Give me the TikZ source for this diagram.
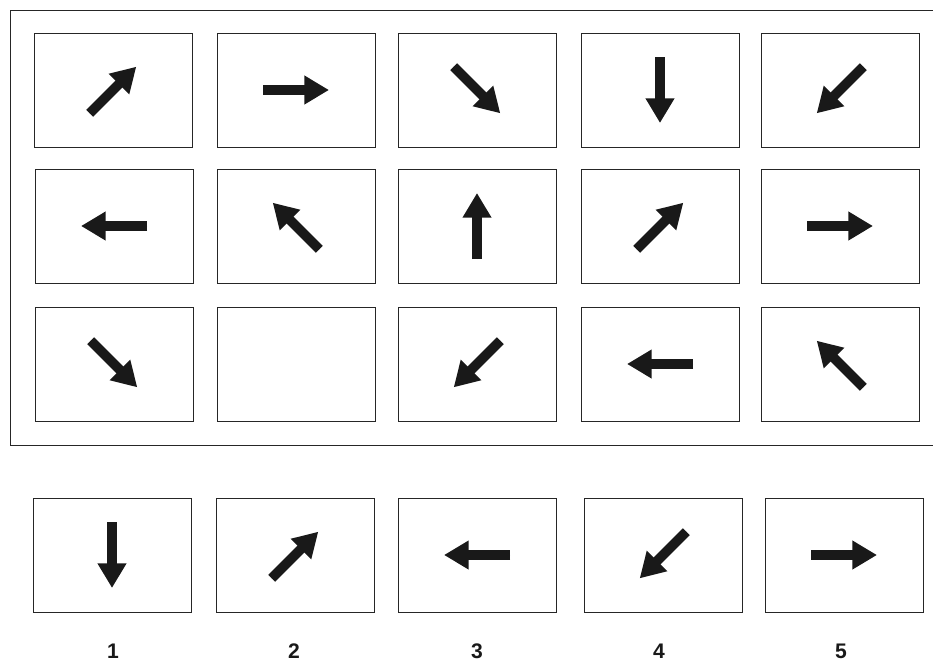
\documentclass[tikz,border=0pt]{standalone}
\usepackage{fontspec}
\setmainfont{Liberation Sans}
\usepackage{tikz}
\usetikzlibrary{
    arrows.meta,
    positioning,
    calc
}
\tikzset{
    cell/.style={
        draw=black!85,
        rectangle,
        minimum width=4.74cm,
        minimum height=3.42cm,
        line width=0.8pt,
        inner sep=0pt,
        fill=white
    },
    numlab/.style={
        font=\fontsize{18}{20}\selectfont\bfseries,
        text=black!90
    },
    blockarrow/.style={
        -{Triangle[width=0.82cm,length=0.74cm]},
        line width=0.29cm,
        draw=black!90,
        fill=black!90
    }
}
% block arrow through the centre of a cell, at an angle
\newcommand{\pointer}[2]{\draw[blockarrow] ($(#1)+(#2:-33)$) -- ($(#1)+(#2:33)$);}

\begin{document}
\begin{tikzpicture}[x=0.03cm, y=0.03cm]

\useasboundingbox (0,0) rectangle (933,-662);

% frame round the puzzle (open at the right)
\draw[line width=0.8pt, draw=black!85] (933,-10) -- (10,-10) -- (10,-445) -- (933,-445);

% puzzle grid
\node[cell] (r1c1) at (113,-90) {};
\node[cell] (r1c2) at (296,-90) {};
\node[cell] (r1c3) at (477,-90) {};
\node[cell] (r1c4) at (660,-90) {};
\node[cell] (r1c5) at (840,-90) {};

\node[cell] (r2c1) at (114,-226) {};
\node[cell] (r2c2) at (296,-226) {};
\node[cell] (r2c3) at (477,-226) {};
\node[cell] (r2c4) at (660,-226) {};
\node[cell] (r2c5) at (840,-226) {};

\node[cell] (r3c1) at (114,-364) {};
\node[cell] (r3c2) at (296,-364) {};
\node[cell] (r3c3) at (477,-364) {};
\node[cell] (r3c4) at (660,-364) {};
\node[cell] (r3c5) at (840,-364) {};

\pointer{r1c1}{45}
\pointer{r1c2}{0}
\pointer{r1c3}{-45}
\pointer{r1c4}{-90}
\pointer{r1c5}{225}

\pointer{r2c1}{180}
\pointer{r2c2}{135}
\pointer{r2c3}{90}
\pointer{r2c4}{45}
\pointer{r2c5}{0}

\pointer{r3c1}{-45}
\pointer{r3c3}{225}
\pointer{r3c4}{180}
\pointer{r3c5}{135}

% answer choices
\node[cell] (a1) at (112,-555) {};
\node[cell] (a2) at (295,-555) {};
\node[cell] (a3) at (477,-555) {};
\node[cell] (a4) at (663,-555) {};
\node[cell] (a5) at (844,-555) {};

\pointer{a1}{-90}
\pointer{a2}{45}
\pointer{a3}{180}
\pointer{a4}{225}
\pointer{a5}{0}

\node[numlab] (n1) at (113,-651) {1};
\node[numlab] (n2) at (294,-651) {2};
\node[numlab] (n3) at (477,-651) {3};
\node[numlab] (n4) at (659,-651) {4};
\node[numlab] (n5) at (841,-651) {5};

\end{tikzpicture}
\end{document}
